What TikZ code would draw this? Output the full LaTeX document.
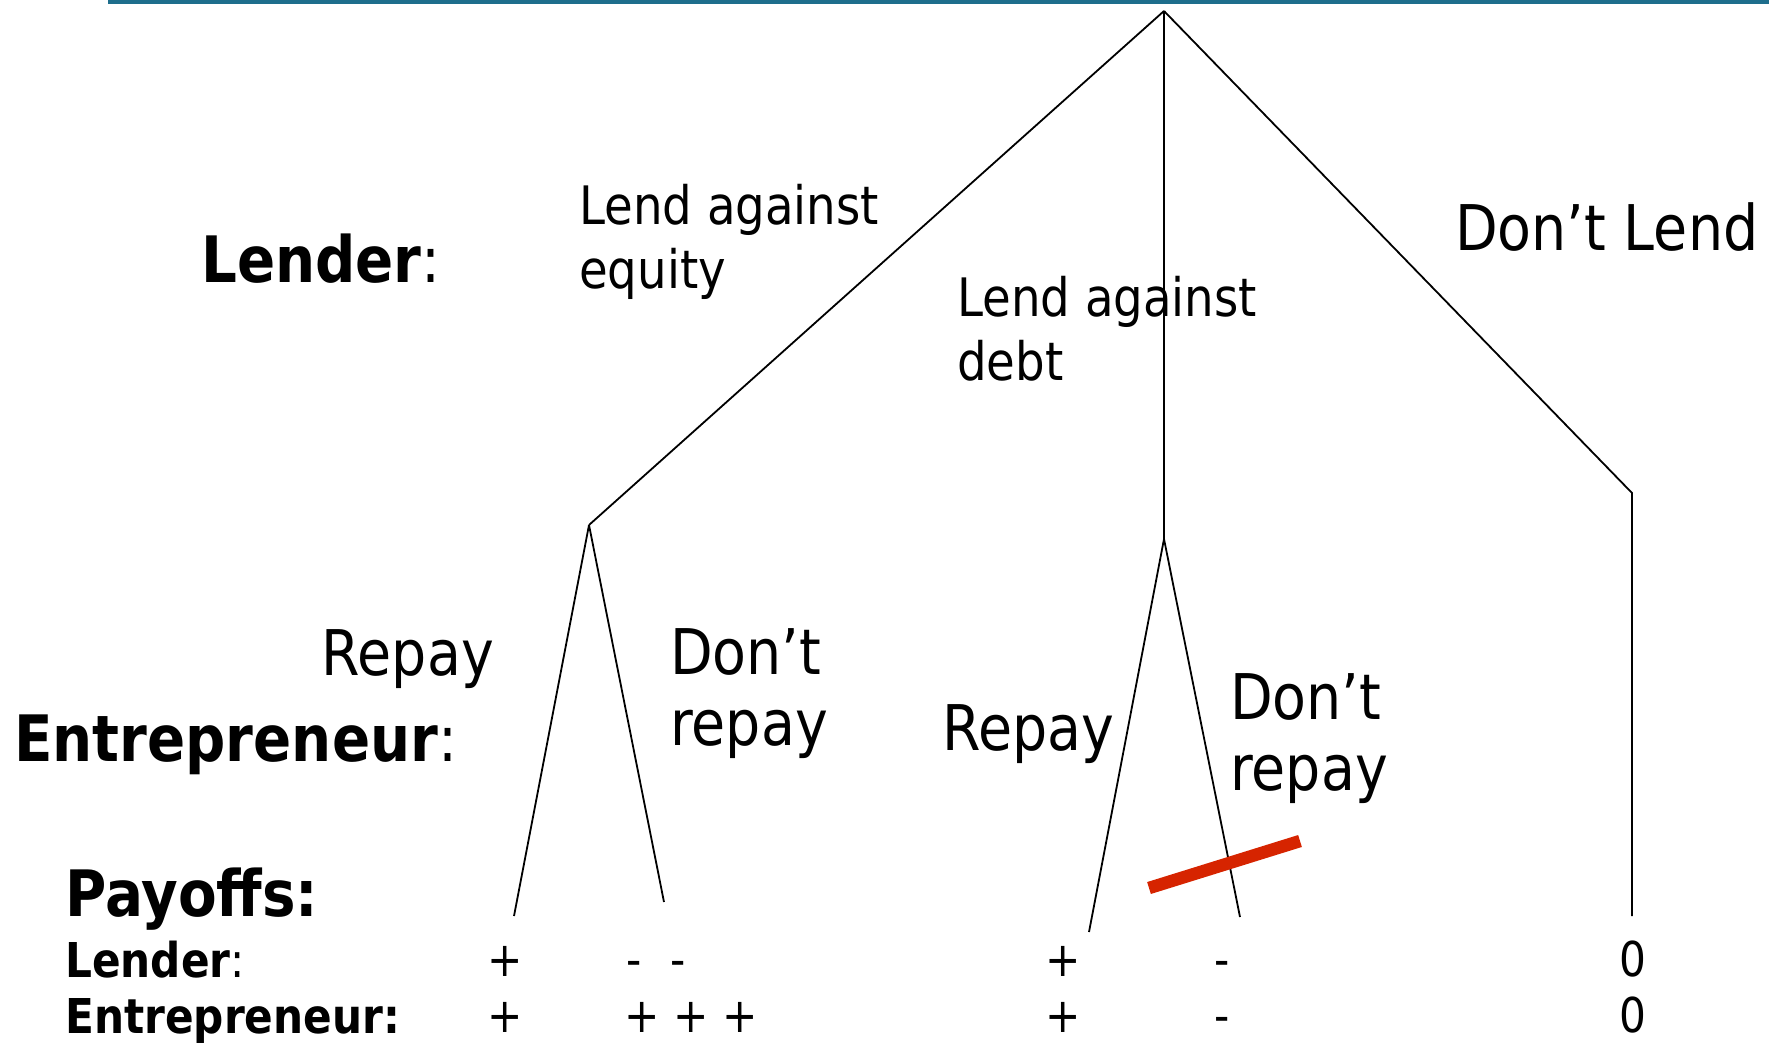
\documentclass[tikz,border=0pt]{standalone}
\usepackage{fontspec}
\setmainfont{DejaVu Sans}[FakeStretch=0.88]
\usetikzlibrary{positioning}

\definecolor{ruleteal}{RGB}{30,110,140}
\definecolor{cutred}{RGB}{214,36,0}

\begin{document}
\begin{tikzpicture}[x=1pt, y=-1pt,
    branch/.style={line width=1.8pt},
    player/.style={anchor=base west, inner sep=0pt, font=\fontsize{64}{72}\selectfont\bfseries},
    small player/.style={anchor=base west, inner sep=0pt, font=\fontsize{48}{56}\selectfont\bfseries},
    move/.style={anchor=base west, inner sep=0pt, align=left, font=\fontsize{63}{71}\selectfont},
    lendmove/.style={anchor=base west, inner sep=0pt, align=left, font=\fontsize{53}{64}\selectfont},
    payoff/.style={anchor=base, inner sep=0pt, font=\fontsize{48}{56}\selectfont},
    cut/.style={line width=12.5pt, cutred}
]
    \useasboundingbox (0,0) rectangle (1769,1042);
    \fill[ruleteal] (108,0) rectangle (1769,3.5);

    % tree
    \coordinate (root) at (1164, 11);
    \coordinate (equity) at (589, 525);
    \coordinate (debt) at (1164, 539);
    \coordinate (nolend) at (1632, 493);
    \coordinate (nolendend) at (1632, 916);
    \coordinate (eqrepay) at (514, 916);
    \coordinate (eqdefault) at (664, 902);
    \coordinate (dbrepay) at (1089, 932);
    \coordinate (dbdefault) at (1240, 917);

    \draw[branch] (root) -- (equity);
    \draw[branch] (root) -- (debt);
    \draw[branch] (root) -- (nolend) -- (nolendend);
    \draw[branch] (equity) -- (eqrepay);
    \draw[branch] (equity) -- (eqdefault);
    \draw[branch] (debt) -- (dbrepay);
    \draw[branch] (debt) -- (dbdefault);

    \coordinate (cutA) at (1149, 888);
    \coordinate (cutB) at (1300, 841);
    \draw[cut] (cutA) -- (cutB);

    % players
    \node[player] (lenderlbl) at (201, 282) {Lender{\mdseries:}};
    \node[player] (entrlbl) at (14, 761) {Entrepreneur{\mdseries:}};
    \node[player] (payofflbl) at (65, 916) {Payoffs:};
    \node[small player] (lenderpay) at (65, 977) {Lender{\mdseries:}};
    \node[small player] (entrpay) at (65, 1033) {Entrepreneur:};

    % moves (base = last line)
    \node[lendmove] (equitylbl) at (579, 288) {Lend against\\equity};
    \node[lendmove] (debtlbl) at (957, 380) {Lend against\\debt};
    \node[move] (nolendlbl) at (1455, 250) {Don’t Lend};
    \node[move, anchor=base east] (eqrepaylbl) at (494, 675) {Repay};
    \node[move] (eqdefaultlbl) at (670, 745) {Don’t\\repay};
    \node[move] (dbrepaylbl) at (942, 750) {Repay};
    \node[move] (dbdefaultlbl) at (1230, 790) {Don’t\\repay};

    % payoffs
    \node[payoff] (p1l) at (505, 976) {+};
    \node[payoff] (p1e) at (505, 1032) {+};
    \node[payoff] (p2l) at (656, 976) {-\hspace{0.6em}-};
    \node[payoff] (p2e) at (691, 1032) {+ + +};
    \node[payoff] (p3l) at (1063, 976) {+};
    \node[payoff] (p3e) at (1063, 1032) {+};
    \node[payoff] (p4l) at (1222, 976) {-};
    \node[payoff] (p4e) at (1222, 1032) {-};
    \node[payoff] (p5l) at (1633, 976) {0};
    \node[payoff] (p5e) at (1633, 1032) {0};
\end{tikzpicture}
\end{document}
